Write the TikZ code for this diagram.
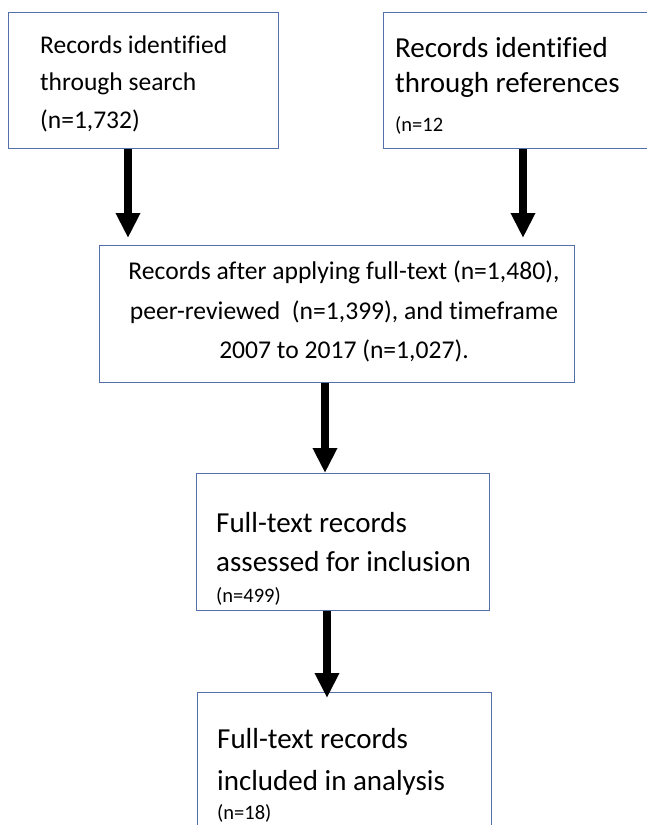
\documentclass[tikz,border=0pt]{standalone}
\usepackage{fontspec}
\setmainfont{Carlito}[Ligatures=NoCommon]
\usetikzlibrary{arrows.meta}
\definecolor{boxblue}{RGB}{84,112,170}
\tikzset{
  flowbox/.style={draw=boxblue, line width=1pt, fill=none, inner sep=0pt, anchor=north west},
  txt/.style={anchor=base west, inner sep=0pt, text=black},
  ctxt/.style={anchor=base, inner sep=0pt, text=black},
  bigarrow/.style={line width=8pt, draw=black, -{Triangle[width=23pt,length=25pt]}},
}
\newcommand{\fa}{\fontsize{25.5}{30}\selectfont}
\newcommand{\fb}{\fontsize{29}{34}\selectfont}
\newcommand{\fc}{\fontsize{25.6}{30}\selectfont}
\newcommand{\fs}{\fontsize{20.5}{24}\selectfont}
\begin{document}
\begin{tikzpicture}[x=1pt,y=-1pt]
\useasboundingbox (0,0) rectangle (646,825);
\fill[white] (0,0) rectangle (646,825);
% boxes
\node[flowbox, minimum width=270pt, minimum height=136pt] (b1) at (8,12) {};
\node[flowbox, minimum width=280pt, minimum height=136pt] (b2) at (383,12) {};
\node[flowbox, minimum width=475pt, minimum height=137pt] (b3) at (99,245) {};
\node[flowbox, minimum width=293pt, minimum height=137pt] (b4) at (196,473) {};
\node[flowbox, minimum width=294pt, minimum height=170pt] (b5) at (197,692) {};
% texts box 1
\node[txt] (t1a) at (40,53) {\fa Records identified};
\node[txt] (t1b) at (40,90) {\fa through search};
\node[txt] (t1c) at (40,128) {\fa (n=1,732)};
% texts box 2
\node[txt] (t2a) at (395,57) {\fb Records identified};
\node[txt] (t2b) at (395,92) {\fb through references};
\node[txt] (t2c) at (395,131) {\fs (n=12};
% texts box 3
\node[ctxt] (t3a) at (344,279) {\fc Records after applying full-text (n=1,480),};
\node[ctxt] (t3b) at (344,319) {\fc peer-reviewed\ \ (n=1,399), and timeframe};
\node[ctxt] (t3c) at (344,358) {\fc 2007 to 2017 (n=1,027).};
% texts box 4
\node[txt] (t4a) at (216,532) {\fb Full-text records};
\node[txt] (t4b) at (216,571) {\fb assessed for inclusion};
\node[txt] (t4c) at (216,602) {\fs (n=499)};
% texts box 5
\node[txt] (t5a) at (217,748) {\fb Full-text records};
\node[txt] (t5b) at (217,790) {\fb included in analysis};
\node[txt] (t5c) at (217,819) {\fs (n=18)};
% arrows
\coordinate (a1s) at (b1.south -| 128,0);
\coordinate (a1e) at (128,238);
\coordinate (a2s) at (b2.south -| 523,0);
\coordinate (a2e) at (523,238);
\draw[bigarrow] (a1s) -- (a1e);
\draw[bigarrow] (a2s) -- (a2e);
\draw[bigarrow] (b3.south -| 325,0) -- (b4.north -| 325,0);
\coordinate (a4e) at (327,698);
\draw[bigarrow] (b4.south -| 327,0) -- (a4e);
\end{tikzpicture}
\end{document}
